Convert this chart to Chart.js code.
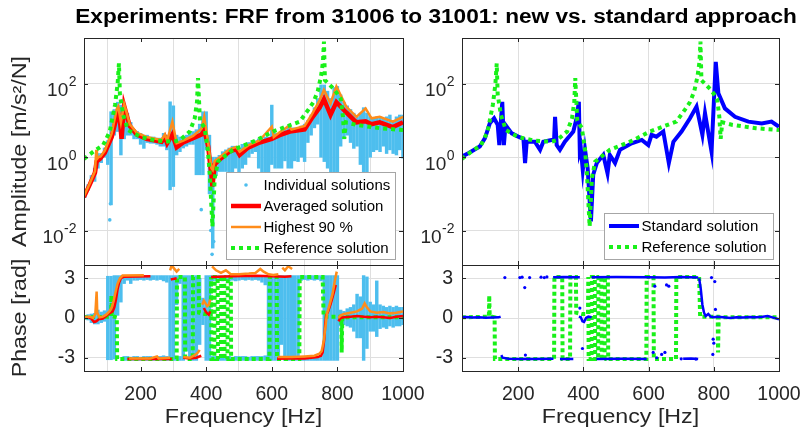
<!DOCTYPE html>
<html>
<head>
<meta charset="utf-8">
<title>FRF from 31006 to 31001</title>
<script src="https://cdn.jsdelivr.net/npm/chart.js@4.4.1/dist/chart.umd.min.js"></script>
<style>
  body { margin: 0; background: #fff; }
  #wrap { position: relative; width: 804px; height: 435px; overflow: hidden; font-family: "Liberation Sans", Arial, sans-serif; }
  #wrap canvas { position: absolute; left: 0; top: 0; }
  #title { position: absolute; left: 436px; top: 5px; transform: translateX(-50%) scaleX(1.16); white-space: nowrap;
           font-weight: bold; font-size: 19.5px; color: #000; }
</style>
</head>
<body>
<div id="wrap">
  <canvas id="ampNew" width="804" height="435"></canvas>
  <canvas id="phaseNew" width="804" height="435"></canvas>
  <canvas id="ampStd" width="804" height="435"></canvas>
  <canvas id="phaseStd" width="804" height="435"></canvas>
  <div id="title">Experiments: FRF from 31006 to 31001: new vs. standard approach</div>
</div>
<script>
// ---- axes ----
const freqMin = 27.5, freqMax = 1000;
const freqTicks = [200, 400, 600, 800, 1000];
const ampExpTicks = [-2, 0, 2];          // decades shown as 10^n
const ampExpMin = -2.94, ampExpMax = 3.25;
const phaseTicks = [-3, 0, 3];

// ---- amplitude as log10 values ----
const avgAmpF = [27, 45, 61, 66, 76, 91, 112, 127, 132, 137, 142, 150, 167, 188, 218, 264, 274, 281, 297, 310, 330, 360, 386, 394, 406, 416, 419, 426, 441, 472, 492, 502, 528, 563, 600, 624, 655, 700, 721, 746, 759, 779, 797, 827, 858, 886, 904, 929, 969, 1000];
const avgAmpLog = [-1.09, -0.75, -0.42, -0.12, -0.05, 0.12, 0.55, 1.1, 1.2, 1.0, 0.5, 1.4, 0.85, 0.62, 0.5, 0.42, 0.55, 0.38, 0.62, 0.27, 0.4, 0.52, 0.62, 0.74, 0.3, -0.5, -0.8, -0.2, -0.06, 0.16, 0.22, 0.06, 0.26, 0.4, 0.5, 0.6, 0.7, 0.76, 1.05, 1.35, 1.58, 1.15, 1.5, 1.22, 0.95, 0.98, 0.9, 0.95, 0.82, 0.95];

const hiAmpF = [27, 45, 61, 65, 67, 72, 78, 91, 112, 127, 132, 140, 150, 167, 188, 218, 264, 274, 281, 297, 310, 330, 360, 386, 394, 406, 416, 420, 426, 441, 472, 492, 502, 528, 563, 600, 606, 624, 652, 660, 700, 721, 746, 759, 779, 797, 827, 858, 886, 904, 929, 969, 1000];
const hiAmpLog = [-1.07, -0.72, -0.38, 0.2, -0.05, 0.0, 0.02, 0.18, 0.65, 1.3, 1.38, 0.95, 1.45, 0.9, 0.67, 0.55, 0.47, 0.62, 0.45, 0.97, 0.38, 0.45, 0.58, 0.78, 1.1, 0.4, -0.3, -0.35, -0.1, 0.0, 0.22, 0.28, 0.15, 0.32, 0.46, 0.83, 0.55, 0.68, 0.85, 0.75, 0.85, 1.15, 1.56, 1.83, 1.47, 1.93, 1.38, 1.1, 1.33, 1.06, 1.1, 0.97, 1.1];

const refAmpF = [27, 56, 86, 106, 122, 130, 134, 137, 147, 162, 200, 250, 300, 320, 350, 365, 372, 375, 381, 395, 405, 411, 419, 426, 436, 481, 550, 604, 685, 711, 727, 740, 750, 756, 759, 762, 790, 810, 817, 821, 826, 858, 929, 1000];
const refAmpLog = [-0.05, 0.15, 0.33, 0.7, 1.42, 2.0, 2.56, 1.7, 1.15, 0.74, 0.55, 0.45, 0.42, 0.47, 0.7, 1.06, 1.51, 2.16, 1.0, 0.8, 0.2, -0.48, -1.89, -0.57, -0.12, 0.2, 0.45, 0.7, 0.97, 1.29, 1.5, 1.8, 2.2, 2.6, 3.15, 2.1, 1.85, 1.6, 1.1, 0.5, 0.95, 0.88, 0.79, 0.74];

const stdAmpF = [28, 47, 82, 98, 113, 126, 137, 142, 151, 156, 161, 180, 200, 216, 221, 226, 251, 267, 277, 302, 310, 313, 318, 328, 343, 369, 379, 386, 389, 392, 398, 405, 413, 423, 430, 441, 461, 474, 481, 497, 512, 548, 579, 599, 609, 624, 645, 662, 676, 701, 727, 747, 765, 773, 793, 806, 814, 834, 865, 906, 947, 977, 1000];
const stdAmpLog = [0.02, 0.11, 0.29, 0.52, 0.93, 1.06, 0.88, 0.33, 1.51, 0.33, 0.88, 0.65, 0.56, 0.5, -0.16, 0.42, 0.42, 0.2, 0.42, 0.47, 0.47, 1.1, 0.33, 0.2, 0.42, 0.7, 1.06, 1.51, 0.15, 0.24, -0.35, 0.2, -0.3, -1.75, -0.48, -0.16, 0.06, -0.44, 0.06, -0.16, 0.2, 0.38, 0.47, 0.33, 0.61, 0.56, 0.7, -0.16, 0.42, 0.7, 1.06, 1.38, 0.61, 1.2, 0.15, 2.6, 1.74, 1.33, 1.1, 0.97, 0.92, 0.97, 0.83];

// spread of the individual solutions, per 10 Hz bin (log10 low / high)
const cloudF = [30, 40, 50, 60, 70, 80, 90, 100, 110, 120, 130, 140, 150, 160, 170, 180, 190, 200, 210, 220, 230, 240, 250, 260, 270, 280, 290, 300, 310, 320, 330, 340, 350, 360, 370, 380, 390, 400, 410, 420, 430, 440, 450, 460, 470, 480, 490, 500, 510, 520, 530, 540, 550, 560, 570, 580, 590, 600, 610, 620, 630, 640, 650, 660, 670, 680, 690, 700, 710, 720, 730, 740, 750, 760, 770, 780, 790, 800, 810, 820, 830, 840, 850, 860, 870, 880, 890, 900, 910, 920, 930, 940, 950, 960, 970, 980, 990, 1000];
const ampCloudLo = [-1.1, -0.9, -0.7, -0.66, -0.3, -0.15, 0.0, -0.2, -1.3, 0.6,
  0.7, 0.06, 0.5, 0.6, 0.6, 0.5, 0.5, 0.35, 0.24, 0.4,
  0.38, 0.38, 0.35, 0.3, 0.3, 0.2, -0.89, -0.8, 0.06, 0.15,
  0.25, 0.3, 0.35, 0.35, -0.48, -0.48, -0.48, 0.2, -1.0, -2.48,
  -0.5, -0.39, -0.39, -0.39, -0.4, -0.45, -0.3, -0.48, -0.3, -0.2,
  0.0, 0.1, 0.15, -0.3, -0.48, -0.48, -0.4, -0.2, -0.3, -0.3,
  -0.3, -0.1, -0.3, -0.3, -0.1, -0.12, 0.0, -0.12, 0.4, 0.6,
  0.8, 0.9, 0.0, -0.12, -0.3, -0.48, -0.48, -0.66, 0.3, 0.5,
  0.6, 0.4, 0.24, 0.3, -0.2, -0.57, -0.4, 0.0, 0.15, 0.2,
  0.15, 0.3, 0.1, 0.2, 0.1, 0.06, 0.2, -0.03];
const ampCloudHi = [-0.95, -0.75, -0.5, -0.3, 0.1, 0.1, 0.25, 0.45, 1.24, 1.3,
  1.5, 1.42, 1.45, 1.2, 0.95, 0.75, 0.7, 0.65, 0.6, 0.6,
  0.55, 0.55, 0.52, 0.52, 0.65, 0.6, 1.51, 1.4, 0.6, 0.55,
  0.55, 0.6, 0.65, 0.7, 0.75, 0.9, 1.24, 1.24, 0.6, 0.0,
  0.0, 0.05, 0.15, 0.2, 0.25, 0.3, 0.3, 0.25, 0.35, 0.35,
  0.4, 0.45, 0.45, 0.5, 0.5, 0.55, 0.55, 1.42, 0.65, 0.65,
  0.7, 0.75, 0.85, 0.8, 0.8, 0.8, 0.85, 0.9, 1.0, 1.15,
  1.35, 1.6, 1.97, 1.97, 1.8, 1.6, 1.9, 1.93, 1.7, 1.5,
  1.4, 1.3, 1.2, 1.1, 1.2, 1.35, 1.2, 1.1, 1.05, 1.1,
  1.1, 1.05, 1.1, 1.15, 1.0, 1.1, 1.15, 1.15];
const ampDotF = [106, 108, 385, 414, 418, 423, 791, 880];
const ampDotLog = [-1.71, -1.27, -1.43, -2.0, -2.65, -2.3, -0.66, -0.8];

// ---- phase [rad]; null marks a break in a trace ----
const avgPhaseF = [27, 40, 50, 58, 65, 72, 85, 95, 105, 115, 120, 125, 130, 135, 140, 150, 230, 230,
  160, 200, 250, 295, 295,
  292, 300, 310, 310,
  330, 350, 370, 385, 385,
  393, 398, 403, 408, 412, 412,
  415, 480, 550, 600, 640, 660, 660,
  616, 650, 700, 740, 750, 755, 760, 763, 766, 772, 780, 790, 795, 795,
  803, 810, 820, 840, 860, 880, 900, 920, 940, 960, 980, 1000];
const avgPhase = [0.05, 0.05, -0.05, -0.3, -0.25, -0.1, -0.05, 0.15, 0.35, 0.5, 0.8, 1.4, 2.2, 2.7, 3.0, 3.12, 3.15, null,
  -3.1, -3.1, -3.08, -3.1, null,
  2.9, 2.95, 3.0, null,
  -3.0, -3.05, -3.0, -2.85, null,
  0.75, 0.5, 0.35, 0.25, 0.5, null,
  3.1, 3.15, 3.18, 3.15, 3.12, 3.15, null,
  -3.08, -3.05, -3.05, -2.95, -2.85, -2.6, -1.6, -0.4, 0.2, 0.5, 1.1, 2.0, 2.5, null,
  -0.25, 0.0, 0.05, 0.1, 0.15, 0.1, 0.05, 0.1, 0.05, 0.0, 0.1, 0.15];

const hiPhaseF = [27, 45, 55, 62, 66, 68, 75, 85, 95, 105, 112, 118, 124, 130, 137, 145, 210, 210,
  165, 230, 250, 255, 290, 290,
  290, 295, 300, 310, 318, 318,
  330, 350, 365, 375, 380, 380,
  388, 393, 398, 403, 408, 412, 412,
  418, 430, 445, 460, 475, 500, 530, 550, 565, 575, 590, 605, 620, 620,
  632, 640, 650, 662, 662,
  618, 660, 700, 730, 745, 752, 758, 763, 768, 775, 785, 793, 798, 798,
  803, 810, 820, 840, 860, 875, 883, 890, 900, 920, 940, 960, 980, 1000];
const hiPhase = [0.08, 0.1, 0.0, 0.3, 2.0, 0.4, 0.05, 0.1, 0.25, 0.5, 0.8, 1.3, 2.0, 2.6, 3.0, 3.2, 3.22, null,
  -3.05, -3.05, -2.9, -3.05, -3.0, null,
  3.6, 4.0, 3.8, 3.5, 3.7, null,
  -2.95, -3.0, -2.8, -2.6, -2.4, null,
  1.0, 1.3, 1.1, 0.9, 1.0, 1.4, null,
  3.9, 3.6, 3.4, 3.6, 3.3, 3.3, 3.35, 3.4, 3.7, 3.5, 3.3, 3.25, 3.3, null,
  3.8, 3.6, 3.9, 3.7, null,
  -2.95, -2.95, -2.9, -2.85, -2.7, -2.5, -1.8, -0.8, 0.3, 0.9, 1.8, 2.9, 3.5, null,
  0.0, 0.2, 0.3, 0.4, 0.5, 0.7, 1.1, 0.8, 0.5, 0.4, 0.45, 0.35, 0.4, 0.5];

const refPhaseF = [27, 110, 111, 112.5, 127.5, 128.5, 310, 311, 335, 336, 359, 360, 377, 378, 395, 414, 415, 416, 425, 426, 435, 436, 445, 446, 455, 456, 465, 466, 475, 476, 593, 594, 615, 616, 684, 685, 755, 758, 812, 813, 815, 1000];
const refPhase = [0.05, 0.1, 1.7, 0.15, 0.05, -3.1, -3.1, 3.1, 3.1, -3.1, -3.1, 3.1, 3.1, 0.4, 0.3, 0.3, 3.1, -3.1, -3.1, 3.1, 3.1, -3.1, -3.1, 3.1, 3.1, -3.1, -3.1, 3.1, 3.1, -3.1, -3.1, 3.1, 3.1, -3.1, -3.1, 3.1, 3.1, 0.1, 0.1, -2.6, 0.05, 0.05];

const stdPhaseF = [28, 40, 60, 80, 100, 120, 140, 146, 146,
  148, 152, 170, 200, 250, 308, 308,
  307, 340, 389, 389,
  328, 369, 369,
  386, 392, 397, 402, 408, 415, 425, 425,
  425, 500, 600, 650, 700, 752, 752,
  440, 520, 594, 594,
  706, 730, 752, 752,
  755, 760, 765, 770, 775, 783, 790, 800, 810, 830, 850, 870, 890, 910, 930, 950, 965, 980, 1000];
const stdPhase = [0.05, 0.08, 0.03, 0.05, 0.02, 0.04, 0.05, 0.1, null,
  -2.8, -3.0, -3.08, -3.1, -3.1, -3.08, null,
  3.08, 3.1, 3.08, null,
  -3.1, -3.1, null,
  0.1, 0.05, -0.25, -0.3, 0.0, 0.1, 0.05, null,
  3.08, 3.1, 3.08, 3.05, 3.1, 3.05, null,
  -3.1, -3.08, -3.1, null,
  -3.08, -3.05, -3.1, null,
  3.0, 2.2, 1.0, 0.4, 0.15, 0.3, 0.1, 0.05, 0.1, 0.05, 0.0, 0.05, 0.03, 0.08, 0.05, 0.1, 0.15, 0.05, -0.1];
const stdDotF = [159, 205, 212, 220, 222, 235, 270, 280, 288, 389, 397, 614, 619, 625, 640, 650, 655, 662, 700, 745, 793, 797, 798, 800, 803, 805];
const stdDot = [3.05, 3.05, 3.08, 2.3, -2.8, 3.05, 3.08, 3.05, 3.1, 0.75, -2.3, -2.6, 2.4, -3.0, -2.75, -2.6, 2.5, 2.4, -3.08, -3.1, 3.05, -2.75, -1.6, -1.9, 2.75, 0.65];

// individual solutions in phase: main spread per bin plus the band near -pi
const phaseCloudLo = [-0.1, -0.15, -0.35, -0.45, -0.45, -0.35, -0.25, -3.15, -3.15, -3.1,
  0.2, 1.2, 2.6, 2.85, 2.6, 2.85, 2.85, 2.9, 2.85, 2.9,
  2.85, 2.9, 2.85, 2.9, 2.8, 2.7, -3.2, -3.2, 1.0, 2.6,
  -3.2, -2.5, -3.2, -3.2, -3.2, -2.0, -0.5, -3.2, -3.2, 2.8,
  2.8, 2.85, 2.8, 2.85, 2.8, 2.85, 2.8, 2.85, 2.9, 2.85,
  2.9, 2.85, 2.9, 2.85, 2.7, 2.5, -3.2, -3.2, -3.2, -3.2,
  -2.0, -3.2, -3.2, -3.2, -3.2, -3.2, 2.85, 2.9, 2.85, 2.9,
  2.85, 2.9, 2.8, -3.2, -3.2, -3.2, -3.2, -3.2, -0.6, -0.5,
  -0.6, -0.7, -1.0, -1.5, -1.5, -3.2, -2.3, -1.0, -1.0, -1.4,
  -0.8, -0.7, -0.8, -0.6, -0.7, -0.6, -0.6, -0.5];
const phaseCloudHi = [0.2, 0.25, 0.3, 0.35, 0.6, 0.45, 0.55, 3.15, 3.15, 3.2,
  3.2, 3.2, 3.2, 3.2, 3.2, 3.2, 3.2, 3.2, 3.2, 3.2,
  3.2, 3.2, 3.2, 3.2, 3.2, 3.2, 3.2, 3.2, 3.2, 3.2,
  3.2, 3.2, 3.2, 3.2, 3.2, 3.0, 1.5, 3.2, 3.2, 3.2,
  3.2, 3.2, 3.2, 3.2, 3.2, 3.2, 3.2, 3.2, 3.2, 3.2,
  3.2, 3.2, 3.2, 3.2, 3.2, 3.2, 3.2, 3.2, 3.2, 3.2,
  3.2, 3.2, 3.2, 3.2, 3.2, 3.2, 3.2, 3.2, 3.2, 3.2,
  3.2, 3.2, 3.2, 3.2, 3.2, 3.2, 3.2, 3.2, 0.6, 0.5,
  0.7, 0.8, 1.0, 1.8, 1.6, 3.2, 3.1, 1.2, 1.0, 2.8,
  1.0, 0.9, 0.8, 0.9, 0.8, 0.9, 0.8, 0.8];
const bandF = [150, 160, 170, 180, 190, 200, 210, 220, 230, 240, 250, 260, 270, 280,
  310, 320,
  420, 430, 440, 450, 460, 470, 480, 490, 500, 510, 520, 530, 540, 550, 560, 570, 580,
  690, 700, 710, 720, 730, 740, 750];
const bandLo = [-3.2, -3.2, -3.2, -3.2, -3.2, -3.2, -3.2, -3.2, -3.2, -3.2, -3.2, -3.2, -3.2, -3.2,
  -3.2, -3.2,
  -3.2, -3.2, -3.2, -3.2, -3.2, -3.2, -3.2, -3.2, -3.2, -3.2, -3.2, -3.2, -3.2, -3.2, -3.2, -3.2, -3.2,
  -3.2, -3.2, -3.2, -3.2, -3.2, -3.2, -3.2];
const bandHi = [-2.9, -2.9, -2.95, -2.9, -2.9, -2.95, -2.9, -2.9, -2.9, -2.95, -2.9, -2.9, -2.85, -2.9,
  -2.9, -2.9,
  -2.9, -2.9, -2.95, -2.9, -2.9, -2.9, -2.95, -2.9, -2.9, -2.9, -2.9, -2.95, -2.9, -2.9, -2.9, -2.9, -2.85,
  -2.9, -2.9, -2.95, -2.9, -2.9, -2.9, -2.85];

// ---- style ----
const INK = '#262626', GRID = '#DFDFDF';
const CYAN = '#4DBEEE', RED = '#FF0000', ORANGE = '#FF8C1A', GREEN = '#19F019', BLUE = '#0000FF';
const FONT = '"Liberation Sans", Arial, sans-serif';
Chart.defaults.font.family = FONT;
Chart.defaults.color = INK;

const pow10 = v => 10 ** v;
const pts = (xs, ys, f = v => v) => xs.map((x, i) => ({x, y: ys[i] === null ? null : f(ys[i])}));
const spans = (xs, lo, hi, f = v => v) => xs.map((x, i) => ({x, y: [f(lo[i]), f(hi[i])]}));

function drawLegend(ctx, lg) {
  ctx.fillStyle = '#fff';
  ctx.fillRect(lg.x, lg.y, lg.w, lg.h);
  ctx.strokeStyle = '#A6A6A6';
  ctx.lineWidth = 1;
  ctx.setLineDash([]);
  ctx.strokeRect(lg.x + 0.5, lg.y + 0.5, lg.w, lg.h);
  lg.rows.forEach((row, i) => {
    const cy = lg.y + 13 + i * 21;
    const x0 = lg.x + 5, x1 = lg.x + 35;
    ctx.save();
    if (row.kind === 'dot') {
      ctx.fillStyle = row.color;
      ctx.beginPath();
      ctx.arc((x0 + x1) / 2, cy, 1.8, 0, 2 * Math.PI);
      ctx.fill();
    } else {
      ctx.strokeStyle = row.color;
      ctx.lineWidth = row.width;
      ctx.setLineDash(row.dash || []);
      ctx.beginPath();
      ctx.moveTo(x0, cy);
      ctx.lineTo(x1, cy);
      ctx.stroke();
    }
    ctx.restore();
    ctx.fillStyle = '#000';
    ctx.font = '15px ' + FONT;
    ctx.textAlign = 'left';
    ctx.textBaseline = 'middle';
    ctx.fillText(row.label, lg.x + 37.5, cy + 0.5);
  });
}

// axis labels in the figure are a bit wider than Arial, so stretch along the text
function axisLabel(ctx, text, cx, cy, vertical) {
  ctx.save();
  ctx.translate(cx, cy);
  if (vertical) ctx.rotate(-Math.PI / 2);
  ctx.scale(1.19, 1);
  ctx.font = '19.5px ' + FONT;
  ctx.fillStyle = INK;
  ctx.textAlign = 'center';
  ctx.textBaseline = 'middle';
  ctx.fillText(text, 0, 0);
  ctx.restore();
}

// box, inward tick marks, 10^n labels, axis labels and legend, like a MATLAB axes
const matlabBox = {
  id: 'matlabBox',
  afterDatasetsDraw(chart, args, opts) {
    const {ctx, chartArea: a, scales: {x, y}} = chart;
    ctx.save();
    ctx.strokeStyle = INK;
    ctx.lineWidth = 1;
    ctx.beginPath();
    for (const t of x.ticks) {
      const px = Math.round(x.getPixelForValue(t.value)) + 0.5;
      ctx.moveTo(px, a.top); ctx.lineTo(px, a.top + 4);
      ctx.moveTo(px, a.bottom); ctx.lineTo(px, a.bottom - 4);
    }
    for (const t of y.ticks) {
      const py = Math.round(y.getPixelForValue(t.value)) + 0.5;
      ctx.moveTo(a.left, py); ctx.lineTo(a.left + 4, py);
      ctx.moveTo(a.right, py); ctx.lineTo(a.right - 4, py);
    }
    ctx.stroke();
    ctx.strokeRect(Math.round(a.left) + 0.5, Math.round(a.top) + 0.5, Math.round(a.right - a.left), Math.round(a.bottom - a.top));

    if (opts.powers) {
      ctx.fillStyle = INK;
      ctx.textBaseline = 'alphabetic';
      ctx.textAlign = 'left';
      for (const e of opts.powers) {
        const py = y.getPixelForValue(10 ** e);
        ctx.font = '19px ' + FONT;
        const wBase = ctx.measureText('10').width;
        ctx.font = '14px ' + FONT;
        const wExp = ctx.measureText(String(e)).width;
        const x0 = a.left - 8 - wExp - wBase;
        ctx.font = '19px ' + FONT;
        ctx.fillText('10', x0, py + 12.5);
        ctx.font = '14px ' + FONT;
        ctx.fillText(String(e), x0 + wBase + 0.5, py + 2.5);
      }
    }
    if (opts.yTitle) axisLabel(ctx, opts.yTitle, 21, (a.top + a.bottom) / 2, true);
    if (opts.xTitle) axisLabel(ctx, opts.xTitle, (a.left + a.right) / 2, 418, false);
    if (opts.legend) drawLegend(ctx, opts.legend);
    ctx.restore();
  }
};

function makeAxes(id, area, yScale, datasets, extras) {
  return new Chart(document.getElementById(id), {
    type: 'line',
    data: { datasets },
    options: {
      responsive: false,
      animation: false,
      events: [],
      layout: { padding: { left: 0, top: area.t, right: 804 - area.r, bottom: 0 } },
      plugins: { legend: { display: false }, tooltip: { enabled: false }, matlabBox: extras },
      scales: {
        x: {
          type: 'linear', min: freqMin, max: freqMax, offset: false,
          afterBuildTicks: s => { s.ticks = freqTicks.map(v => ({value: v})); },
          afterFit: s => { s.height = 435 - area.b; s.paddingLeft = 0; s.paddingRight = 0; },
          grid: { color: GRID, drawTicks: false },
          border: { display: false },
          ticks: { display: !!extras.xTitle, padding: 12, font: { size: 19.5 }, color: INK, maxRotation: 0, autoSkip: false,
                   callback: v => String(v) }
        },
        y: Object.assign({
          afterFit: s => { s.width = area.l; s.paddingTop = 0; s.paddingBottom = 0; },
          grid: { color: GRID, drawTicks: false },
          border: { display: false }
        }, yScale)
      }
    },
    plugins: [matlabBox]
  });
}

const ampScale = {
  type: 'logarithmic', min: pow10(ampExpMin), max: pow10(ampExpMax),
  afterBuildTicks: s => { s.ticks = ampExpTicks.map(e => ({value: 10 ** e})); },
  ticks: { display: false }
};
const phaseScale = {
  type: 'linear', min: -4, max: 4,
  afterBuildTicks: s => { s.ticks = phaseTicks.map(v => ({value: v})); },
  ticks: { padding: 9, font: { size: 19.5 }, color: INK, callback: v => String(v) }
};

const lineDs = (data, color, width, dash) => ({
  type: 'line', data, borderColor: color, backgroundColor: color, borderWidth: width,
  borderDash: dash || [], pointRadius: 0, tension: 0, spanGaps: false, clip: 0, borderCapStyle: 'butt'
});
const dotDs = (data, color, r) => ({
  type: 'line', data, showLine: false, pointRadius: r, pointBorderWidth: 0,
  pointBackgroundColor: color, borderColor: color, clip: 0
});
const barDs = (data, color) => ({
  type: 'bar', data, backgroundColor: color, borderWidth: 0, barThickness: 2.8, grouped: false, clip: 0
});

const LEFT = { l: 84, r: 403 }, RIGHT = { l: 462, r: 779 };
const AMP = { t: 38, b: 265 }, PHASE = { t: 265, b: 371 };

makeAxes('ampNew', Object.assign({}, LEFT, AMP), ampScale, [
  lineDs(pts(refAmpF, refAmpLog, pow10), GREEN, 4, [4, 4]),
  lineDs(pts(hiAmpF, hiAmpLog, pow10), ORANGE, 2.5),
  lineDs(pts(avgAmpF, avgAmpLog, pow10), RED, 4.5),
  dotDs(pts(ampDotF, ampDotLog, pow10), CYAN, 1.8),
  barDs(spans(cloudF, ampCloudLo, ampCloudHi, pow10), CYAN)
], {
  yTitle: 'Amplitude [m/s²/N]', powers: ampExpTicks,
  legend: { x: 226, y: 172, w: 169, h: 87, rows: [
    { label: 'Individual solutions', kind: 'dot', color: CYAN },
    { label: 'Averaged solution', kind: 'line', color: RED, width: 4.5 },
    { label: 'Highest 90 %', kind: 'line', color: ORANGE, width: 2.5 },
    { label: 'Reference solution', kind: 'line', color: GREEN, width: 4, dash: [4, 4] }
  ] }
});

makeAxes('phaseNew', Object.assign({}, LEFT, PHASE), phaseScale, [
  lineDs(pts(hiPhaseF, hiPhase), ORANGE, 2.5),
  lineDs(pts(avgPhaseF, avgPhase), RED, 2.5),
  lineDs(pts(refPhaseF, refPhase), GREEN, 4, [4, 3]),
  barDs(spans(cloudF, phaseCloudLo, phaseCloudHi), CYAN),
  barDs(spans(bandF, bandLo, bandHi), CYAN)
], { yTitle: 'Phase [rad]', xTitle: 'Frequency [Hz]' });

makeAxes('ampStd', Object.assign({}, RIGHT, AMP), ampScale, [
  lineDs(pts(refAmpF, refAmpLog, pow10), GREEN, 4, [4, 4]),
  lineDs(pts(stdAmpF, stdAmpLog, pow10), BLUE, 4)
], {
  powers: ampExpTicks,
  legend: { x: 604, y: 213, w: 169, h: 46, rows: [
    { label: 'Standard solution', kind: 'line', color: BLUE, width: 4 },
    { label: 'Reference solution', kind: 'line', color: GREEN, width: 4, dash: [4, 4] }
  ] }
});

makeAxes('phaseStd', Object.assign({}, RIGHT, PHASE), phaseScale, [
  dotDs(pts(stdDotF, stdDot), BLUE, 1.6),
  lineDs(pts(stdPhaseF, stdPhase), BLUE, 2.5),
  lineDs(pts(refPhaseF, refPhase), GREEN, 4, [4, 3])
], { xTitle: 'Frequency [Hz]' });
</script>
</body>
</html>
